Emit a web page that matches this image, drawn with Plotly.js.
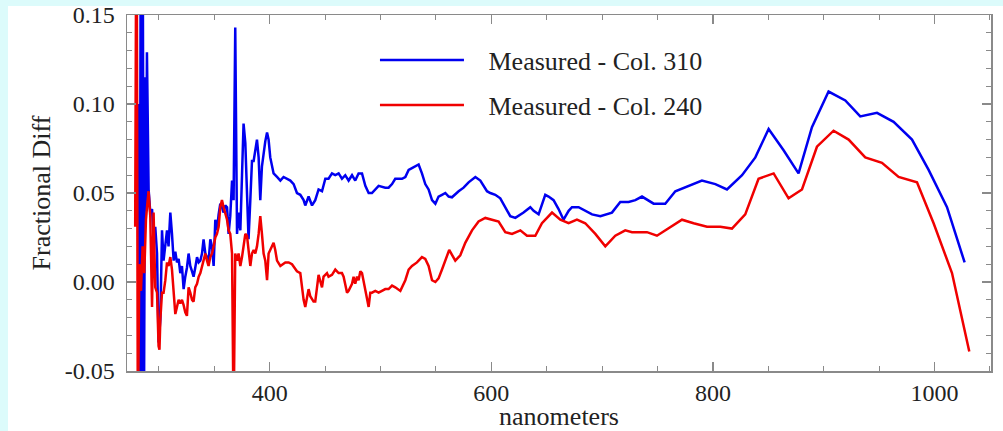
<!DOCTYPE html>
<html><head><meta charset="utf-8">
<script src="https://cdn.plot.ly/plotly-3.0.1.min.js"></script>
<style>
html,body{margin:0;padding:0;background:#fff;width:1003px;height:431px;overflow:hidden;}
#lbar{position:absolute;left:0;top:0;width:8px;height:431px;background:#dcfbfb;}
#tbar{position:absolute;left:0;top:0;width:1003px;height:6px;background:#dcfbfb;}
#chart{position:absolute;left:0;top:0;width:1003px;height:431px;}
</style></head><body>
<div id="lbar"></div><div id="tbar"></div><div id="chart"></div>
<script>
// Measured - Col. 310 (blue)
const blueNm = [281.5,282.6,283.5,284.5,285.5,286.5,287.6,288.4,289.2,290.0,290.7,292.2,293.8,295.2,296.7,298.3,299.7,301.3,302.8,304.2,305.8,307.3,308.7,310.3,311.8,313.3,314.8,316.3,317.8,319.3,320.8,322.3,323.8,325.3,326.8,328.3,329.9,331.3,332.8,334.4,335.9,337.4,338.9,340.3,341.9,343.4,344.8,346.4,347.9,349.4,350.9,352.4,353.9,355.4,356.9,358.4,359.9,361.5,362.9,364.4,366.0,367.4,368.9,370.5,371.9,373.5,375.0,376.4,378.0,379.5,380.9,382.5,384.0,385.5,387.0,388.5,390.0,391.5,393.0,394.5,396.0,397.6,399.0,400.5,403.5,406.6,409.6,412.5,415.5,418.6,421.6,424.6,427.6,430.6,432.1,435.1,438.2,441.1,444.1,447.2,450.2,453.1,456.2,459.2,462.2,465.2,468.2,471.2,474.3,477.2,480.2,483.3,486.3,489.3,492.3,495.3,498.3,504.3,507.3,510.4,513.3,516.3,519.4,522.4,525.4,528.4,531.4,534.4,537.4,540.4,543.4,546.5,549.5,552.4,555.5,558.5,561.5,564.5,570.5,575.0,579.5,585.6,590.1,596.1,599.1,603.6,608.1,612.6,617.1,621.7,629.1,635.2,638.2,642.7,648.7,651.7,656.2,660.7,665.2,669.8,672.8,678.8,684.8,690.9,698.4,704.4,708.9,716.4,723.9,730.0,736.0,746.5,757.0,766.1,778.1,790.1,802.2,812.7,826.3,838.3,850.3,863.8,877.3,889.4,904.4,919.5,933.0,948.1,963.1,979.7,994.7,1011.3,1027.2];
const blueVal = [0.100,-0.080,0.170,-0.080,0.170,-0.080,0.115,0.040,0.129,0.080,0.052,0.039,0.041,0.024,0.031,0.016,-0.034,-0.021,0.029,0.012,0.022,0.029,0.020,0.039,0.027,0.012,0.017,0.011,0.013,0.005,0.009,-0.004,0.003,0.008,0.016,0.009,0.006,0.003,0.008,0.014,0.011,0.012,0.016,0.024,0.016,0.014,0.011,0.024,0.020,0.009,0.035,0.029,0.038,0.044,0.042,0.039,0.043,0.042,0.027,0.037,0.057,0.046,0.143,0.027,0.039,0.029,0.060,0.089,0.078,0.054,0.024,0.046,0.068,0.068,0.074,0.080,0.070,0.046,0.065,0.074,0.079,0.084,0.080,0.070,0.061,0.059,0.057,0.059,0.058,0.057,0.055,0.050,0.049,0.046,0.043,0.048,0.043,0.046,0.052,0.051,0.058,0.058,0.061,0.060,0.061,0.058,0.060,0.057,0.060,0.057,0.061,0.061,0.054,0.050,0.050,0.052,0.054,0.053,0.053,0.055,0.058,0.058,0.058,0.059,0.063,0.064,0.065,0.066,0.061,0.055,0.052,0.046,0.044,0.048,0.049,0.050,0.048,0.0476,0.051,0.053,0.056,0.059,0.057,0.051,0.050,0.049,0.047,0.042,0.037,0.036,0.039,0.042,0.040,0.038,0.049,0.048,0.046,0.041,0.035,0.040,0.042,0.042,0.040,0.038,0.037,0.038,0.039,0.045,0.045,0.046,0.048,0.044,0.044,0.051,0.054,0.057,0.055,0.052,0.060,0.070,0.086,0.074,0.061,0.087,0.107,0.102,0.093,0.095,0.090,0.080,0.063,0.042,0.011];
// Measured - Col. 240 (red)
const redNm = [278.6,279.8,281.0,282.3,283.8,285.3,286.8,288.3,289.7,290.7,292.2,293.8,295.2,296.7,298.3,299.7,300.5,301.3,302.8,304.2,305.8,307.3,308.7,310.3,311.8,313.3,314.8,316.3,317.8,319.3,320.8,322.3,323.8,325.3,326.8,328.3,329.9,331.3,332.8,334.4,335.9,337.4,338.9,340.3,341.9,343.4,344.8,346.4,347.9,349.4,350.9,352.4,353.9,355.4,356.9,358.4,359.9,361.5,362.9,364.4,366.0,366.8,367.4,368.9,370.5,371.9,373.5,375.0,376.4,378.0,379.5,380.9,382.5,384.0,385.5,387.0,388.5,390.0,391.5,393.0,394.5,396.0,397.6,399.0,400.5,402.0,403.5,405.0,406.6,409.6,412.5,414.1,417.1,420.1,424.6,427.6,430.6,432.1,435.1,436.6,439.6,441.1,444.1,447.2,448.6,451.7,453.1,456.2,459.2,462.2,465.2,466.7,469.8,471.2,474.3,475.7,477.2,478.8,480.2,481.8,483.3,486.3,489.3,490.8,492.3,495.3,498.3,501.3,504.3,507.3,510.4,513.3,516.3,517.9,522.4,525.4,528.4,532.9,537.4,540.4,543.4,546.5,549.5,552.4,555.5,558.5,562.0,567.5,572.0,576.5,582.6,588.5,594.6,600.6,606.6,612.6,618.7,626.2,632.2,639.7,645.7,654.8,662.3,669.8,677.3,684.8,693.9,702.9,711.9,720.9,727.0,733.0,740.5,749.5,760.0,772.1,782.6,794.7,806.7,817.2,829.2,841.2,854.8,868.3,880.4,893.9,908.9,922.5,937.5,952.6,967.6,984.2,999.2,1015.8,1031.4];
const redVal = [0.031,0.250,-0.090,0.010,-0.005,0.020,0.005,0.035,0.045,0.051,0.037,-0.014,0.039,-0.003,-0.006,-0.036,-0.038,-0.021,-0.006,-0.006,0.001,0.011,0.009,0.014,0.007,-0.008,-0.018,-0.014,-0.010,-0.012,-0.010,-0.013,-0.017,-0.019,-0.003,-0.006,-0.010,-0.011,-0.003,-0.001,0.003,0.005,0.009,0.012,0.016,0.012,0.009,0.014,0.016,0.020,0.025,0.027,0.031,0.042,0.046,0.042,0.039,0.035,0.029,0.027,0.016,-0.010,-0.080,0.016,0.012,0.016,0.009,0.014,0.020,0.027,0.026,0.016,0.009,0.016,0.018,0.016,0.020,0.027,0.037,0.027,0.016,0.012,0.001,0.016,0.018,0.020,0.022,0.018,0.012,0.009,0.010,0.011,0.011,0.010,0.006,0.005,-0.010,-0.014,-0.004,-0.008,-0.011,-0.011,0.004,-0.003,0.003,0.005,0.003,0.004,0.007,0.005,0.005,0.003,-0.006,-0.005,-0.001,0.003,-0.001,0.003,0.001,0.006,0.005,-0.005,-0.014,-0.006,-0.006,-0.005,-0.006,-0.005,-0.004,-0.004,-0.002,-0.003,-0.004,-0.005,0.001,0.007,0.009,0.011,0.014,0.013,0.009,0.001,0.000,0.002,0.007,0.012,0.018,0.012,0.015,0.022,0.029,0.034,0.036,0.035,0.034,0.028,0.027,0.029,0.026,0.026,0.033,0.039,0.035,0.033,0.035,0.033,0.027,0.020,0.026,0.029,0.028,0.028,0.028,0.026,0.030,0.035,0.033,0.031,0.031,0.030,0.038,0.058,0.061,0.047,0.052,0.076,0.085,0.080,0.070,0.067,0.059,0.056,0.033,0.005,-0.039];
const seriesNames = ['Measured - Col. 310', 'Measured - Col. 240'];
const yTickVals = [-0.05, 0.00, 0.05, 0.10, 0.15];
const yTickText = ['-0.05', '0.00', '0.05', '0.10', '0.15'];
const xTitle = 'nanometers';
const yTitle = 'Fractional Diff';

const serif = 'Liberation Serif, Times New Roman, serif';
const axisGray = '#8a8a8a';
const pad = '\u00a0\u00a0\u00a0';
const traces = [
  {x: blueNm, y: blueVal, name: pad + seriesNames[0], type: 'scatter', mode: 'lines',
   line: {color: '#0000f0', width: 2.5}, legendgroup: 'a'},
  {x: redNm, y: redVal, name: pad + seriesNames[1], type: 'scatter', mode: 'lines',
   line: {color: '#f00000', width: 2.5}, legendgroup: 'b'}
];
const layout = {
  width: 1003, height: 431,
  margin: {l: 127, r: 12, t: 15, b: 60},
  paper_bgcolor: 'rgba(0,0,0,0)', plot_bgcolor: '#ffffff',
  font: {family: serif, color: '#222'},
  showlegend: true,
  legend: {x: 0.287, y: 0.939, xanchor: 'left', yanchor: 'top', bgcolor: 'rgba(0,0,0,0)',
    font: {family: serif, size: 26, color: '#222'}, itemwidth: 84, tracegroupgap: 8},
  xaxis: {range: [271.2, 1051], dtick: 200, tick0: 0, tickformat: 'd',
    showline: true, mirror: 'ticks', linecolor: axisGray, linewidth: 1.5,
    ticks: 'inside', ticklen: 9, tickcolor: axisGray, tickwidth: 1.2,
    minor: {ticks: 'inside', dtick: 50, tick0: 0, ticklen: 5, tickcolor: axisGray, tickwidth: 1},
    showgrid: false, zeroline: false, ticklabelstandoff: 0,
    tickfont: {family: serif, size: 24, color: '#222'},
    title: {text: xTitle, font: {family: serif, size: 26, color: '#222'}, standoff: 9}},
  yaxis: {range: [-0.05, 0.15], tickvals: yTickVals, ticktext: yTickText,
    showline: true, mirror: 'ticks', linecolor: axisGray, linewidth: 1.5,
    ticks: 'inside', ticklen: 9, tickcolor: axisGray, tickwidth: 1.2,
    minor: {ticks: 'inside', dtick: 0.01, tick0: 0, ticklen: 5, tickcolor: axisGray, tickwidth: 1},
    showgrid: false, zeroline: false, ticklabelstandoff: 6,
    tickfont: {family: serif, size: 24, color: '#222'},
    title: {text: yTitle, font: {family: serif, size: 26, color: '#222'}, standoff: 6}}
};
Plotly.newPlot('chart', traces, layout, {staticPlot: true, displayModeBar: false});
</script>
</body></html>
